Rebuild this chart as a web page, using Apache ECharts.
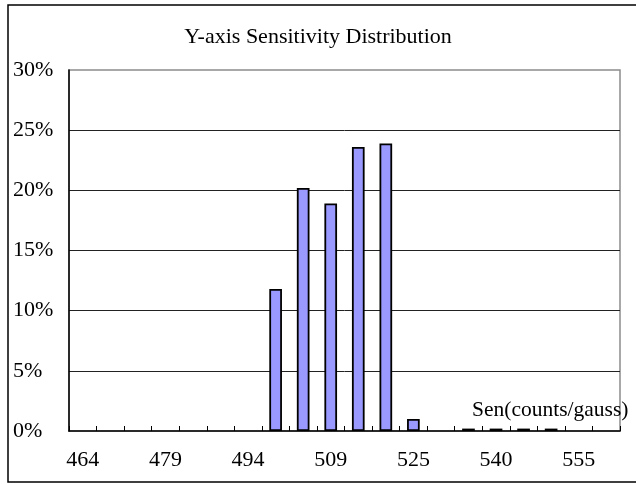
<!DOCTYPE html>
<html>
<head>
<meta charset="utf-8">
<script src="https://cdn.jsdelivr.net/npm/echarts@6/dist/echarts.min.js"></script>
<style>
html,body{margin:0;padding:0;background:#fff;}
#chart{width:636px;height:484px;}
</style>
</head>
<body>
<div id="chart"></div>
<script>
const titleText = 'Y-axis Sensitivity Distribution';
const axisName = 'Sen(counts/gauss)';
const categories = ['464','469','474','479','484','489','494','499','504','509','514','520','525','530','535','540','545','550','555','560'];
const percentValues = [0,0,0,0,0,0,0,11.8,20.2,18.9,23.6,23.9,1.0,0,0.2,0.2,0.2,0.2,0,0];
const yTicks = [0,5,10,15,20,25,30];

const FONT = '"Liberation Serif", "Times New Roman", serif';
const chart = echarts.init(document.getElementById('chart'), null, {renderer:'canvas'});

const seriesData = percentValues.map(v => v === 0
  ? {value: v, itemStyle: {borderWidth: 0}}
  : {value: v});

chart.setOption({
  animation: false,
  backgroundColor: '#fff',
  title: {
    text: titleText,
    left: 'center',
    top: 21,
    textStyle: {fontFamily: FONT, fontSize: 22, fontWeight: 'normal', color: '#000'}
  },
  grid: {
    left: 69, right: 16, top: 70, bottom: 53,
    show: true, borderColor: '#8c8c8c', borderWidth: 1.5, backgroundColor: 'transparent'
  },
  xAxis: {
    type: 'category',
    data: categories,
    boundaryGap: true,
    axisLine: {lineStyle: {color: '#000', width: 1.5}},
    axisTick: {show: true, inside: true, length: 5, interval: 0, alignWithLabel: false,
               lineStyle: {color: '#000', width: 1}},
    axisLabel: {interval: 2, margin: 18, color: '#000', fontFamily: FONT, fontSize: 22},
    splitLine: {show: false}
  },
  yAxis: {
    type: 'value',
    min: yTicks[0],
    max: yTicks[yTicks.length - 1],
    interval: yTicks[1] - yTicks[0],
    axisLine: {show: true, lineStyle: {color: '#000', width: 1.5}},
    axisTick: {show: false},
    axisLabel: {formatter: '{value}%', align: 'left', margin: 56, color: '#000',
                fontFamily: FONT, fontSize: 22},
    splitLine: {show: true, showMinLine: false, showMaxLine: false,
                lineStyle: {color: '#222', width: 1}}
  },
  series: [{
    type: 'bar',
    data: seriesData,
    barWidth: '46%',
    itemStyle: {color: '#9999FF', borderColor: '#000', borderWidth: 1.8}
  }],
  graphic: [
    {
      type: 'rect',
      shape: {x: 8, y: 5, width: 640, height: 477},
      style: {fill: 'none', stroke: '#000', lineWidth: 1.5},
      silent: true,
      z: 100
    },
    {
      type: 'text',
      left: 472,
      top: 399,
      style: {text: axisName, font: '21.5px ' + FONT, fill: '#000'},
      z: 100
    }
  ]
});
</script>
</body>
</html>
